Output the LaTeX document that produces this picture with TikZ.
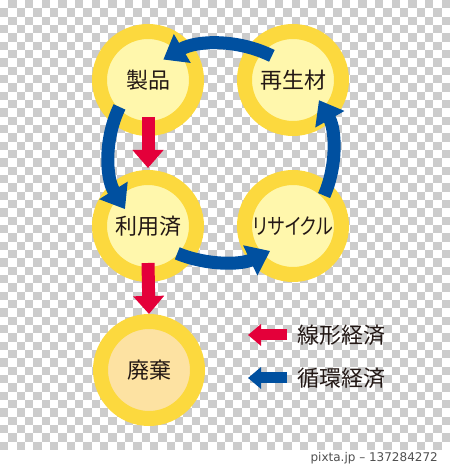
\documentclass[tikz,border=0pt]{standalone}
\usepackage{fontspec}
\newfontfamily\jp{Noto Sans CJK JP}
\newfontfamily\jpp[RawFeature=+palt]{Noto Sans CJK JP}
\newfontfamily\capfont{DejaVu Sans}
\usetikzlibrary{arrows.meta}
\definecolor{ringyel}{RGB}{252,217,62}
\definecolor{paleyel}{RGB}{255,247,172}
\definecolor{palepeach}{RGB}{253,226,162}
\definecolor{cycblue}{RGB}{0,80,160}
\definecolor{linred}{RGB}{228,0,58}
\definecolor{checkgray}{RGB}{204,204,204}
\definecolor{inkcol}{RGB}{35,24,21}
\definecolor{capgray}{RGB}{80,80,80}
\tikzset{
    ring/.style={circle, minimum size=97pt, inner sep=0pt, fill=paleyel,
        draw=ringyel, line width=15pt, text=inkcol,
        font=\jp\fontsize{22}{22}\selectfont},
    waste/.style={ring, fill=palepeach},
    keytext/.style={anchor=west, inner sep=0pt, text=inkcol,
        font=\jp\fontsize{22}{22}\selectfont},
    cycarrow/.style={draw=cycblue, line width=13pt,
        -{Triangle[width=32pt,length=22pt]}},
    linarrow/.style={draw=linred, line width=13pt,
        -{Triangle[width=30pt,length=18pt]}},
    keyarrow/.style={line width=11pt, -{Triangle[width=21pt,length=13pt]}}
}
\begin{document}
\begin{tikzpicture}[x=1pt, y=1pt]
            \useasboundingbox (0,0) rectangle (450,469);
            \fill[white] (0,0) rectangle (450,469);
            \foreach \r in {0,...,53}{
                \pgfmathtruncatemacro\st{mod(\r+1,2)}
                \pgfmathtruncatemacro\nx{\st+2}
                \foreach \c in {\st,\nx,...,53}
                    \fill[checkgray] ({\c*8.3333},{469-\r*8.3333}) rectangle +(8.3333,-8.3333);
            }
            \node[anchor=east, inner sep=0pt, text=capgray,
                font=\capfont\fontsize{12}{12}\selectfont] (credit) at (438,11) {pixta.jp – 137284272};

            \coordinate (ctr) at (221,316);
            \node[ring] (seihin) at (148,389) {製品};
            \node[ring] (saisei) at (293,389) {再生材};
            \node[ring] (riyou) at (148,243) {利用済};
            \node[ring, font=\jpp\fontsize{22}{22}\selectfont] (recycle) at (293,243) {\scalebox{0.82}[1]{リサイクル}};
            \node[waste] (haiki) at (149,99) {廃棄};

            \foreach \a/\b in {-23/29, 63/121, 155/211, 247/296}
                \draw[cycarrow] ([shift={(\a:112pt and 109pt)}]ctr)
                    arc[start angle=\a, end angle=\b, x radius=112pt, y radius=109pt];

            \draw[linarrow] ([yshift=-37pt]seihin.center) -- ([yshift=2pt]riyou.north);
            \draw[linarrow] ([yshift=-37pt]riyou.center) -- (haiki.north);

            \node[keytext] (lin) at (297,134) {線形経済};
            \node[keytext] (circ) at (297,91) {循環経済};
            \draw[keyarrow, draw=linred] ([xshift=-10pt]lin.west) -- ([xshift=-49pt]lin.west);
            \draw[keyarrow, draw=cycblue] ([xshift=-10pt]circ.west) -- ([xshift=-49pt]circ.west);
        \end{tikzpicture}
\end{document}
